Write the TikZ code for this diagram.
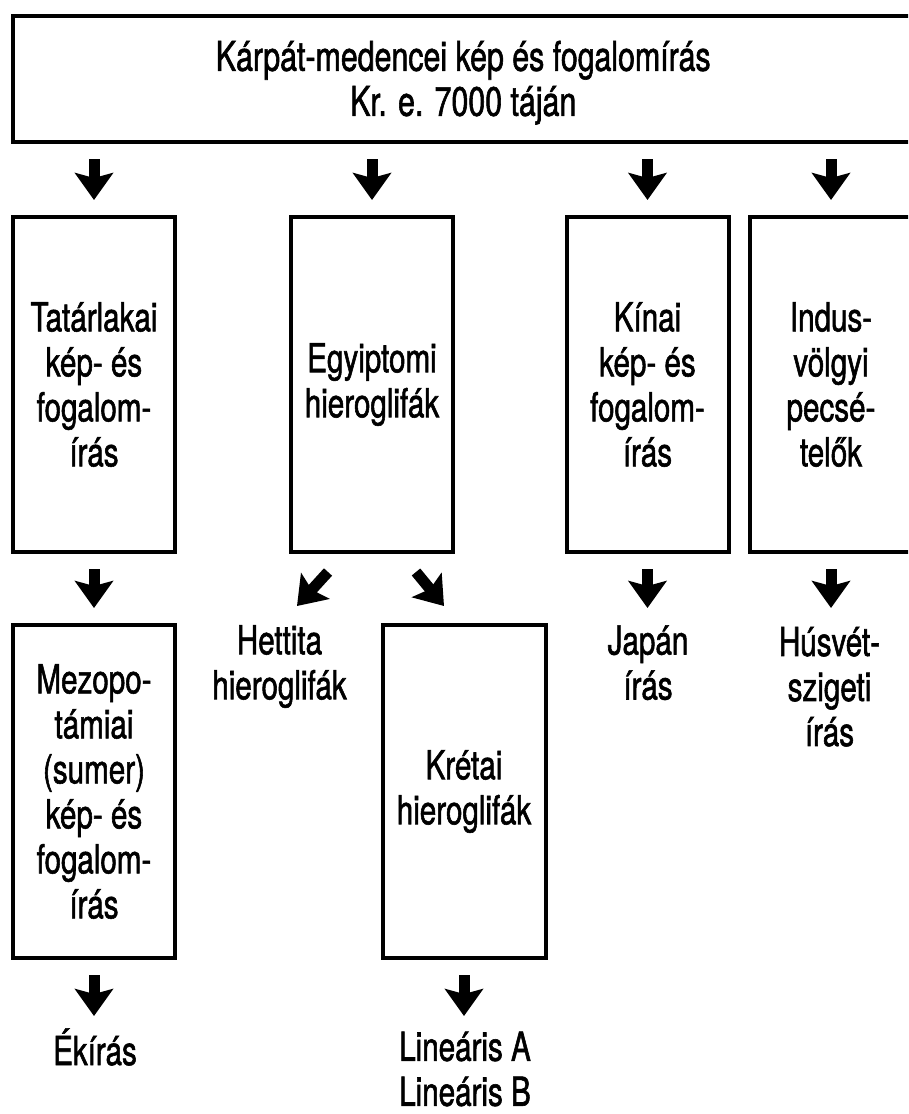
\documentclass[tikz,border=0pt]{standalone}
\usepackage{fontspec}
\setmainfont{TeX Gyre Heros}[FakeStretch=0.74,FakeBold=1.4]
\usetikzlibrary{arrows.meta,calc}
\begin{document}
\begin{tikzpicture}[x=1pt,y=-1pt,
  txt/.style={inner sep=0pt, align=center, font=\fontsize{40}{45}\selectfont},
  box/.style={txt, draw, line width=4pt},
  barrow/.style={line width=11pt, -{Stealth[length=27pt,width=38pt,inset=5pt]}}]
\useasboundingbox (0,0) rectangle (908,1114);
\clip (0,0) rectangle (908,1114);
% top box
\node[box, minimum width=901.5pt, minimum height=126.5pt, font=\fontsize{41}{45}\selectfont] (top) at (463.25,78.75)
  {\rule{0pt}{38pt}Kárpát-medencei kép és fogalomírás\\Kr. e. 7000 táján};
% second row
\node[box, minimum width=162pt, minimum height=335pt] (tat) at (94,384.5) {Tatárlakai\\kép- és\\fogalom-\\írás};
\node[box, minimum width=162pt, minimum height=335pt] (egy) at (372,384.5) {Egyiptomi\\hieroglifák};
\node[box, minimum width=162pt, minimum height=335pt] (kin) at (647.5,384.5) {Kínai\\kép- és\\fogalom-\\írás};
\node[box, minimum width=162pt, minimum height=335pt] (ind) at (831,384.5) {Indus-\\völgyi\\pecsé-\\telők};
% third row
\node[box, minimum width=162pt, minimum height=333pt] (mez) at (94,791.5) {Mezopo-\\támiai\\(sumer)\\kép- és\\fogalom-\\írás};
\node[txt] (het) at (279.5,666.5) {Hettita\\hieroglifák};
\node[box, minimum width=163pt, minimum height=333pt] (kre) at (464,791.5) {Krétai\\hieroglifák};
\node[txt] (jap) at (648,662.7) {Japán\\írás};
\node[txt] (hus) at (829.5,686.7) {Húsvét-\\szigeti\\írás};
% bottom row
\node[txt, anchor=base] (eki) at (95,1065) {Ékírás};
\node[txt] (lin) at (465,1069) {Lineáris A\\Lineáris B};
% arrows
\foreach \b in {tat,egy,kin,ind}
  \draw[barrow] ($(\b.north |- top.south)+(0,15)$) -- ($(\b.north)+(0,-15)$);
\draw[barrow] ($(tat.south)+(0,15)$) -- ($(mez.north)+(0,-15)$);
\draw[barrow] ($(egy.south)+(-44,18)$) -- ($(egy.south)+(-75,52)$);
\draw[barrow] ($(egy.south)+(44,18)$) -- ($(egy.south)+(72,52)$);
\draw[barrow] ($(kin.south)+(0,15)$) -- ($(kin.south |- mez.north)+(0,-15)$);
\draw[barrow] ($(ind.south)+(0,15)$) -- ($(ind.south |- mez.north)+(0,-15)$);
\draw[barrow] ($(mez.south)+(0,15)$) -- ($(mez.south)+(0,56)$);
\draw[barrow] ($(kre.south)+(0,15)$) -- ($(kre.south)+(0,56)$);
\end{tikzpicture}
\end{document}
